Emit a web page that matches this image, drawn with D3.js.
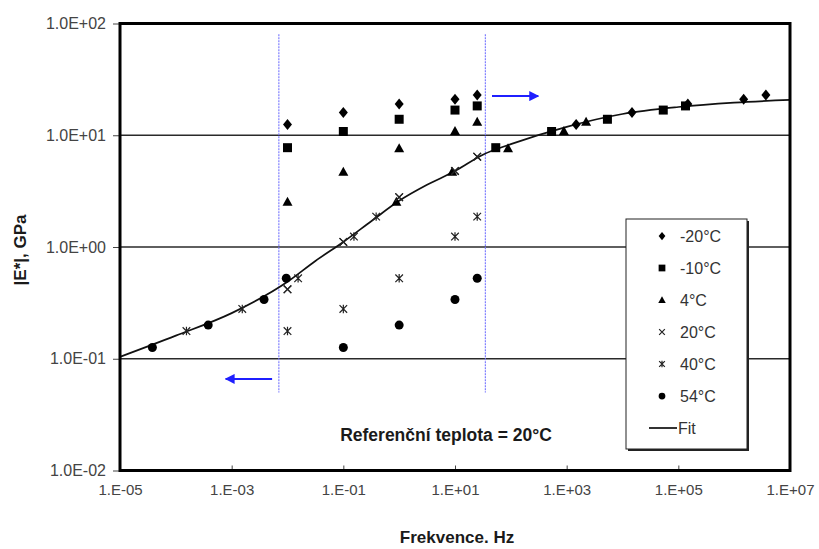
<html>
<head>
    <script src='https://cdnjs.cloudflare.com/ajax/libs/d3/7.8.5/d3.min.js'></script>
    <style>
        body { margin: 0; background: #fff; }
        text { font-family: Arial, 'Liberation Sans', sans-serif; }
    </style>
</head>
<body>
</body>

<script>
    // measured frequencies, Hz
    var freqs = [0.01, 0.1, 1, 10, 25];
    var temps = ['-20°C', '-10°C', '4°C', '20°C', '40°C', '54°C'];
    var markers = ['diamond', 'square', 'triangle', 'cross', 'star', 'circle'];
    // shift factors, log10(aT)
    var shifts = [5.17, 3.73, 1.95, 0, -1.81, -3.42];

    // |E*| in GPa per temperature
    var eM20 = [12.5, 16.0, 19.0, 21.0, 22.9];
    var eM10 = [7.74, 10.8, 13.9, 16.8, 18.3];
    var e4 = [2.54, 4.72, 7.64, 10.9, 13.2];
    var e20 = [0.418, 1.11, 2.79, 4.79, 6.43];
    var e40 = [0.177, 0.279, 0.525, 1.24, 1.87];
    var e54 = [null, 0.126, 0.200, 0.339, 0.525];
    var series = [eM20, eM10, e4, e20, e40, e54];

    // fitted master curve
    var fitFreq = [1e-5, 1e-4, 1e-3, 1e-2, 3.16e-2, 1e-1, 3.16e-1, 1, 3.16, 10, 31.6, 100, 1e3, 1e4, 1e5, 1e6, 1e7];
    var fitE = [0.104, 0.161, 0.256, 0.488, 0.75, 1.11, 1.70, 2.59, 3.6, 4.78, 6.7, 8.32, 11.9, 15.5, 17.9, 19.6, 20.7];

    var xTicks = [1e-5, 1e-3, 1e-1, 1e1, 1e3, 1e5, 1e7];
    var xTickLabels = ['1.E-05', '1.E-03', '1.E-01', '1.E+01', '1.E+03', '1.E+05', '1.E+07'];
    var yTicks = [0.01, 0.1, 1, 10, 100];
    var yTickLabels = ['1.0E-02', '1.0E-01', '1.0E+00', '1.0E+01', '1.0E+02'];

    // measurement window (blue dotted lines) and arrows
    var windowFreq = [0.007, 35];
    var windowE = [0.05, 80];
    var arrowRight = {f: [46, 310], e: 22.4};
    var arrowLeft = {f: [0.0053, 0.00078], e: 0.066};

    var plotL = 120, plotR = 790, plotT = 23.5, plotB = 470.5;

    var svg = d3.select('body').append('svg')
                .attr('width', 819).attr('height', 549);

    var x = d3.scaleLog().domain([1e-5, 1e7]).range([plotL, plotR]);
    var y = d3.scaleLog().domain([0.01, 100]).range([plotB, plotT]);

    // gridlines
    svg.append('g').selectAll('line')
       .data(yTicks.slice(1, -1))
       .enter().append('line')
       .attr('x1', plotL).attr('x2', plotR)
       .attr('y1', function (d) { return y(d); })
       .attr('y2', function (d) { return y(d); })
       .style('stroke', '#2a2a2a').style('stroke-width', 1.3);

    // axes
    var yAxis = svg.append('g')
        .attr('transform', 'translate(' + plotL + ',0)')
        .call(d3.axisLeft(y).tickValues(yTicks)
              .tickFormat(function (d, i) { return yTickLabels[i]; })
              .tickSize(7).tickPadding(7));
    var xAxis = svg.append('g')
        .attr('transform', 'translate(0,' + plotB + ')')
        .call(d3.axisBottom(x).tickValues(xTicks)
              .tickFormat(function (d, i) { return xTickLabels[i]; })
              .tickSize(-5).tickPadding(14));
    [xAxis, yAxis].forEach(function (a) {
        a.select('.domain').remove();
        a.selectAll('text').style('font-size', '15px').style('fill', '#444')
         .style('font-family', 'Arial, "Liberation Sans", sans-serif');
        a.selectAll('line').style('stroke', '#444');
    });
    yAxis.selectAll('text').style('font-size', '16px');

    // measurement window
    windowFreq.forEach(function (f) {
        svg.append('line')
           .attr('x1', x(f)).attr('x2', x(f))
           .attr('y1', y(windowE[1])).attr('y2', y(windowE[0]))
           .style('stroke', '#7f7fff').style('stroke-width', 1.2)
           .style('stroke-dasharray', '2,1');
    });

    svg.append('defs').append('marker')
       .attr('id', 'head').attr('viewBox', '0 0 10 10')
       .attr('refX', 9).attr('refY', 5)
       .attr('markerWidth', 5).attr('markerHeight', 5)
       .attr('orient', 'auto')
       .append('path').attr('d', 'M0,0L10,5L0,10Z').style('fill', '#1f1fff');

    [arrowRight, arrowLeft].forEach(function (a) {
        svg.append('line')
           .attr('x1', x(a.f[0])).attr('x2', x(a.f[1]))
           .attr('y1', y(a.e)).attr('y2', y(a.e))
           .style('stroke', '#1f1fff').style('stroke-width', 2)
           .attr('marker-end', 'url(#head)');
    });

    // fit line
    var line = d3.line()
        .x(function (d, i) { return x(fitFreq[i]); })
        .y(function (d) { return y(d); })
        .curve(d3.curveMonotoneX);
    svg.append('path').datum(fitE)
       .attr('d', line)
       .style('fill', 'none').style('stroke', '#111').style('stroke-width', 1.7);

    function drawMarker(g, type, cx, cy, s) {
        var p;
        if (type == 'circle') {
            g.append('circle').attr('cx', cx).attr('cy', cy).attr('r', 4.5 * s)
             .style('fill', '#000');
            return;
        }
        if (type == 'diamond') p = 'M0,-5.5L4.5,0L0,5.5L-4.5,0Z';
        if (type == 'square') p = 'M-4.5,-4.5h9v9h-9Z';
        if (type == 'triangle') p = 'M0,-5L5,4L-5,4Z';
        if (type == 'cross') p = 'M-3.8,-3.8L3.8,3.8M-3.8,3.8L3.8,-3.8';
        if (type == 'star') p = 'M-3.8,-3.8L3.8,3.8M-3.8,3.8L3.8,-3.8M0,-4.2V4.2';
        var path = g.append('path').attr('d', p)
            .attr('transform', 'translate(' + cx + ',' + cy + ') scale(' + s + ')');
        if (type == 'cross' || type == 'star') {
            path.style('fill', 'none').style('stroke', '#222').style('stroke-width', 1.2 / s);
        } else {
            path.style('fill', '#000');
        }
    }

    // data: measured points and shifted points
    var pts = svg.append('g');
    series.forEach(function (vals, k) {
        vals.forEach(function (v, i) {
            if (v == null) return;
            drawMarker(pts, markers[k], x(freqs[i]), y(v), 1);
            drawMarker(pts, markers[k], x(freqs[i] * Math.pow(10, shifts[k])), y(v), 1);
        });
    });

    // frame
    svg.append('rect')
       .attr('x', plotL).attr('y', plotT)
       .attr('width', plotR - plotL).attr('height', plotB - plotT)
       .style('fill', 'none').style('stroke', '#000').style('stroke-width', 3);

    // legend
    var lg = svg.append('g').attr('transform', 'translate(626,219)');
    lg.append('rect').attr('x', 2).attr('y', 2).attr('width', 121).attr('height', 230)
      .style('fill', '#222');
    lg.append('rect').attr('width', 121).attr('height', 230)
      .style('fill', '#fff').style('stroke', '#222').style('stroke-width', 1);
    temps.forEach(function (t, i) {
        var ry = 17 + i * 32;
        drawMarker(lg, markers[i], 36, ry, 0.75);
        lg.append('text').attr('x', 54).attr('y', ry).attr('dy', '0.35em')
          .style('font-size', '16px').style('fill', '#333').text(t);
    });
    lg.append('line').attr('x1', 23).attr('x2', 51)
      .attr('y1', 17 + 6 * 32).attr('y2', 17 + 6 * 32)
      .style('stroke', '#333').style('stroke-width', 2);
    lg.append('text').attr('x', 52).attr('y', 17 + 6 * 32).attr('dy', '0.35em')
      .style('font-size', '16px').style('fill', '#333').text('Fit');

    svg.append('text').attr('x', 446).attr('y', 435).attr('dy', '0.35em')
       .attr('text-anchor', 'middle')
       .style('font-size', '17.5px').style('font-weight', 'bold').style('fill', '#1a1a1a')
       .text('Referenční teplota = 20°C');

    // axis titles
    svg.append('text').attr('x', 457).attr('y', 537).attr('dy', '0.35em')
       .attr('text-anchor', 'middle')
       .style('font-size', '17px').style('font-weight', 'bold').style('fill', '#1a1a1a')
       .text('Frekvence. Hz');
    svg.append('text')
       .attr('transform', 'translate(20,250) rotate(-90)')
       .attr('dy', '0.35em').attr('text-anchor', 'middle')
       .style('font-size', '17px').style('font-weight', 'bold').style('fill', '#1a1a1a')
       .text('|E*|, GPa');
</script>
</html>
